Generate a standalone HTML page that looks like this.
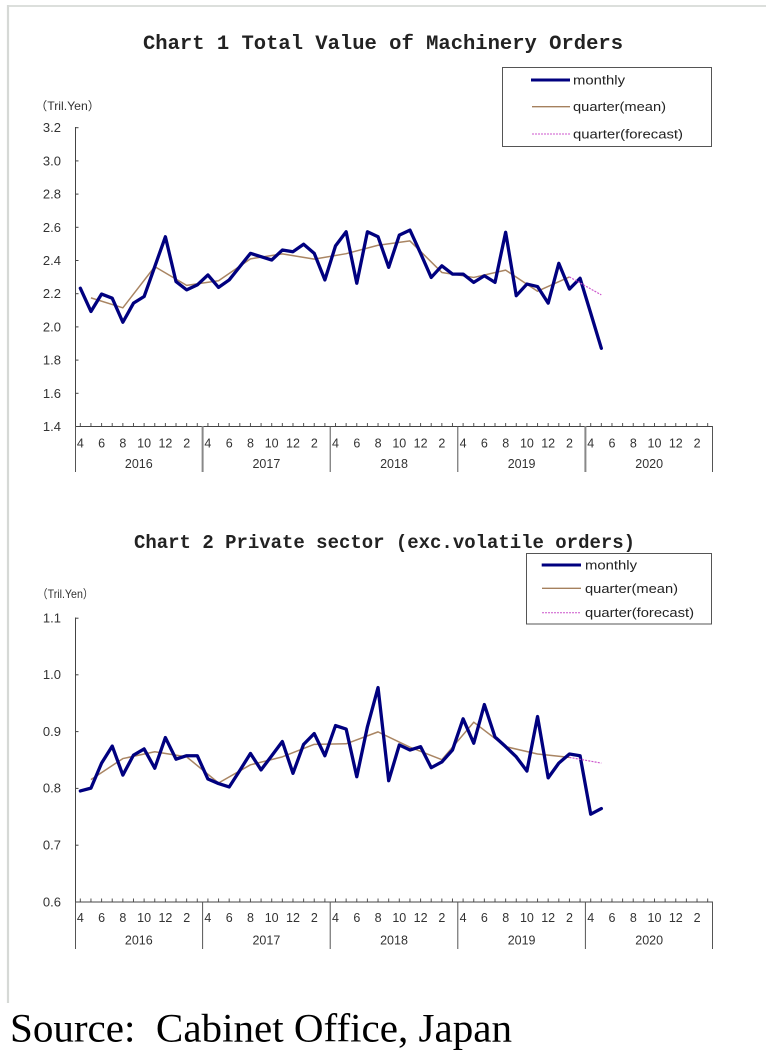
<!DOCTYPE html>
<html>
<head>
<meta charset="utf-8">
<style>
  html, body { margin:0; padding:0; background:#ffffff; }
  body { width:766px; height:1059px; overflow:hidden; }
  svg { display:block; }
  .tick { font-family:"Liberation Sans", Arial, sans-serif; font-size:13px; fill:#333; }
  .mon { font-family:"Liberation Sans", Arial, sans-serif; font-size:12.5px; fill:#333; text-anchor:middle; }
  .yr { font-family:"Liberation Sans", Arial, sans-serif; font-size:12.5px; fill:#333; text-anchor:middle; }
  .leg { font-family:"Liberation Sans", Arial, sans-serif; font-size:13px; fill:#222; }
  .unit { font-family:"Liberation Sans", "Noto Sans CJK JP", sans-serif; font-size:12px; fill:#333; }
  .title { font-family:"Liberation Mono", "Courier New", monospace; font-weight:bold; fill:#222; text-anchor:middle; }
</style>
</head>
<body>
<svg width="766" height="1059" viewBox="0 0 766 1059" xmlns="http://www.w3.org/2000/svg">
  <!-- frame -->
  <line x1="7" y1="6" x2="766" y2="6" stroke="#dcdfdc" stroke-width="2"/>
  <line x1="8" y1="5" x2="8" y2="1003" stroke="#d6d9d6" stroke-width="2.2"/>

  <!-- ================= CHART 1 ================= -->
  <text class="title" x="383" y="49" font-size="20.5" textLength="480" lengthAdjust="spacingAndGlyphs">Chart 1 Total Value of Machinery Orders</text>

  <!-- legend 1 -->
  <rect x="502.5" y="67.5" width="209" height="79" fill="#fff" stroke="#555" stroke-width="1"/>
  <line x1="531" y1="80" x2="570" y2="80" stroke="#00007f" stroke-width="3"/>
  <text class="leg" x="573" y="84.5" textLength="52" lengthAdjust="spacingAndGlyphs">monthly</text>
  <line x1="532" y1="106.7" x2="570" y2="106.7" stroke="#a5805e" stroke-width="1.3"/>
  <text class="leg" x="573" y="111.2" textLength="93" lengthAdjust="spacingAndGlyphs">quarter(mean)</text>
  <line x1="532" y1="134" x2="570" y2="134" stroke="#cc55cc" stroke-width="1" stroke-dasharray="2,1"/>
  <text class="leg" x="573" y="138.5" textLength="110" lengthAdjust="spacingAndGlyphs">quarter(forecast)</text>

  <text class="unit" x="35" y="110" textLength="65" lengthAdjust="spacingAndGlyphs">（Tril.Yen）</text>

  <!-- y tick labels -->
  <g class="tick" text-anchor="end">
    <text x="61" y="132">3.2</text>
    <text x="61" y="165.4">3.0</text>
    <text x="61" y="198.6">2.8</text>
    <text x="61" y="231.8">2.6</text>
    <text x="61" y="265">2.4</text>
    <text x="61" y="298.2">2.2</text>
    <text x="61" y="331.4">2.0</text>
    <text x="61" y="364.6">1.8</text>
    <text x="61" y="397.8">1.6</text>
    <text x="61" y="431">1.4</text>
  </g>
  <!-- axes -->
  <g stroke="#444" stroke-width="1">
    <line x1="75.5" y1="127" x2="75.5" y2="426"/>
    <line x1="75" y1="426.5" x2="713" y2="426.5"/>
    <line x1="75" y1="127.7" x2="78.5" y2="127.7"/>
    <line x1="75" y1="160.9" x2="78.5" y2="160.9"/>
    <line x1="75" y1="194.1" x2="78.5" y2="194.1"/>
    <line x1="75" y1="227.3" x2="78.5" y2="227.3"/>
    <line x1="75" y1="260.5" x2="78.5" y2="260.5"/>
    <line x1="75" y1="293.7" x2="78.5" y2="293.7"/>
    <line x1="75" y1="326.9" x2="78.5" y2="326.9"/>
    <line x1="75" y1="360.1" x2="78.5" y2="360.1"/>
    <line x1="75" y1="393.3" x2="78.5" y2="393.3"/>
  </g>
  <line x1="79.82" y1="424.5" x2="713" y2="424.5" stroke="#555" stroke-width="3" stroke-dasharray="1,9.633"/>
  <!-- year separators -->
  <g stroke="#555" stroke-width="1">
    <line x1="75.5" y1="426" x2="75.5" y2="472"/>
    <line x1="202.6" y1="426" x2="202.6" y2="472" stroke="#888" stroke-width="2"/>
    <line x1="330.2" y1="426" x2="330.2" y2="472"/>
    <line x1="457.8" y1="426" x2="457.8" y2="472"/>
    <line x1="585.4" y1="426" x2="585.4" y2="472" stroke="#888" stroke-width="2"/>
    <line x1="712.5" y1="426" x2="712.5" y2="472"/>
  </g>
  <!-- month labels -->
  <g class="mon">
    <text x="80.3" y="447.5">4</text><text x="101.6" y="447.5">6</text><text x="122.9" y="447.5">8</text><text x="144.1" y="447.5">10</text><text x="165.4" y="447.5">12</text><text x="186.7" y="447.5">2</text>
    <text x="207.9" y="447.5">4</text><text x="229.2" y="447.5">6</text><text x="250.5" y="447.5">8</text><text x="271.7" y="447.5">10</text><text x="293.0" y="447.5">12</text><text x="314.3" y="447.5">2</text>
    <text x="335.5" y="447.5">4</text><text x="356.8" y="447.5">6</text><text x="378.1" y="447.5">8</text><text x="399.3" y="447.5">10</text><text x="420.6" y="447.5">12</text><text x="441.9" y="447.5">2</text>
    <text x="463.1" y="447.5">4</text><text x="484.4" y="447.5">6</text><text x="505.7" y="447.5">8</text><text x="526.9" y="447.5">10</text><text x="548.2" y="447.5">12</text><text x="569.5" y="447.5">2</text>
    <text x="590.7" y="447.5">4</text><text x="612.0" y="447.5">6</text><text x="633.3" y="447.5">8</text><text x="654.5" y="447.5">10</text><text x="675.8" y="447.5">12</text><text x="697.1" y="447.5">2</text>
  </g>
  <g class="yr">
    <text x="138.8" y="467.8">2016</text>
    <text x="266.4" y="467.8">2017</text>
    <text x="394.0" y="467.8">2018</text>
    <text x="521.6" y="467.8">2019</text>
    <text x="649.2" y="467.8">2020</text>
  </g>
  <!-- series chart 1 -->
  <g transform="matrix(10.633,0,0,-166,80.32,658.4)" fill="none">
    <polyline vector-effect="non-scaling-stroke" stroke="#a98563" stroke-width="1.5" stroke-linejoin="round"
      points="1,2.172 4,2.112 7,2.36 10,2.247 13,2.275 16,2.407 19,2.437 22,2.405 25,2.438 28,2.489 31,2.515 34,2.325 37,2.295 40,2.339 43,2.212 46,2.298"/>
    <polyline vector-effect="non-scaling-stroke" stroke="#00007f" stroke-width="3.3" stroke-linejoin="round" stroke-linecap="round"
      points="0,2.23 1,2.09 2,2.195 3,2.17 4,2.025 5,2.14 6,2.18 7,2.36 8,2.54 9,2.27 10,2.22 11,2.25 12,2.31 13,2.235 14,2.28 15,2.36 16,2.44 17,2.42 18,2.40 19,2.46 20,2.45 21,2.495 22,2.44 23,2.28 24,2.485 25,2.57 26,2.26 27,2.57 28,2.54 29,2.356 30,2.55 31,2.58 32,2.44 33,2.295 34,2.365 35,2.315 36,2.315 37,2.265 38,2.305 39,2.265 40,2.567 41,2.185 42,2.255 43,2.24 44,2.14 45,2.38 46,2.225 47,2.29 48,2.08 49,1.868"/>
  </g>
  <line x1="569.4" y1="276.9" x2="601.3" y2="294.9" stroke="#cc55cc" stroke-width="1.2" stroke-dasharray="2,1.2"/>

  <!-- ================= CHART 2 ================= -->
  <text class="title" x="384.5" y="548" font-size="19" textLength="501" lengthAdjust="spacingAndGlyphs">Chart 2 Private sector (exc.volatile orders)</text>

  <!-- legend 2 -->
  <rect x="526.5" y="553.5" width="185" height="70.5" fill="#fff" stroke="#555" stroke-width="1"/>
  <line x1="541.7" y1="565" x2="581" y2="565" stroke="#00007f" stroke-width="3"/>
  <text class="leg" x="585" y="569.5" textLength="52" lengthAdjust="spacingAndGlyphs">monthly</text>
  <line x1="542" y1="588.3" x2="581" y2="588.3" stroke="#a5805e" stroke-width="1.3"/>
  <text class="leg" x="585" y="592.8" textLength="93" lengthAdjust="spacingAndGlyphs">quarter(mean)</text>
  <line x1="542" y1="612.7" x2="581" y2="612.7" stroke="#cc55cc" stroke-width="1" stroke-dasharray="2,1"/>
  <text class="leg" x="585" y="617.2" textLength="109" lengthAdjust="spacingAndGlyphs">quarter(forecast)</text>

  <text class="unit" x="37" y="598" textLength="56.5" lengthAdjust="spacingAndGlyphs">（Tril.Yen）</text>

  <g class="tick" text-anchor="end">
    <text x="61" y="622.5">1.1</text>
    <text x="61" y="679.1">1.0</text>
    <text x="61" y="735.9">0.9</text>
    <text x="61" y="792.7">0.8</text>
    <text x="61" y="849.5">0.7</text>
    <text x="61" y="906.3">0.6</text>
  </g>
  <g stroke="#444" stroke-width="1">
    <line x1="75.5" y1="617.5" x2="75.5" y2="901.7"/>
    <line x1="75" y1="902" x2="713" y2="902"/>
    <line x1="75" y1="618.2" x2="78.5" y2="618.2"/>
    <line x1="75" y1="674.8" x2="78.5" y2="674.8"/>
    <line x1="75" y1="731.6" x2="78.5" y2="731.6"/>
    <line x1="75" y1="788.4" x2="78.5" y2="788.4"/>
    <line x1="75" y1="845.2" x2="78.5" y2="845.2"/>
  </g>
  <line x1="79.82" y1="900" x2="713" y2="900" stroke="#555" stroke-width="3" stroke-dasharray="1,9.633"/>
  <g stroke="#555" stroke-width="1">
    <line x1="75.5" y1="901.7" x2="75.5" y2="949"/>
    <line x1="202.6" y1="901.7" x2="202.6" y2="949"/>
    <line x1="330.2" y1="901.7" x2="330.2" y2="949"/>
    <line x1="457.8" y1="901.7" x2="457.8" y2="949"/>
    <line x1="585.4" y1="901.7" x2="585.4" y2="949"/>
    <line x1="712.5" y1="901.7" x2="712.5" y2="949"/>
  </g>
  <g class="mon">
    <text x="80.3" y="922">4</text><text x="101.6" y="922">6</text><text x="122.9" y="922">8</text><text x="144.1" y="922">10</text><text x="165.4" y="922">12</text><text x="186.7" y="922">2</text>
    <text x="207.9" y="922">4</text><text x="229.2" y="922">6</text><text x="250.5" y="922">8</text><text x="271.7" y="922">10</text><text x="293.0" y="922">12</text><text x="314.3" y="922">2</text>
    <text x="335.5" y="922">4</text><text x="356.8" y="922">6</text><text x="378.1" y="922">8</text><text x="399.3" y="922">10</text><text x="420.6" y="922">12</text><text x="441.9" y="922">2</text>
    <text x="463.1" y="922">4</text><text x="484.4" y="922">6</text><text x="505.7" y="922">8</text><text x="526.9" y="922">10</text><text x="548.2" y="922">12</text><text x="569.5" y="922">2</text>
    <text x="590.7" y="922">4</text><text x="612.0" y="922">6</text><text x="633.3" y="922">8</text><text x="654.5" y="922">10</text><text x="675.8" y="922">12</text><text x="697.1" y="922">2</text>
  </g>
  <g class="yr">
    <text x="138.8" y="944.7">2016</text>
    <text x="266.4" y="944.7">2017</text>
    <text x="394.0" y="944.7">2018</text>
    <text x="521.6" y="944.7">2019</text>
    <text x="649.2" y="944.7">2020</text>
  </g>
  <g transform="matrix(10.633,0,0,-568,80.32,1242.5)" fill="none">
    <polyline vector-effect="non-scaling-stroke" stroke="#a98563" stroke-width="1.5" stroke-linejoin="round"
      points="1,0.815 4,0.852 7,0.864 10,0.855 13,0.809 16,0.841 19,0.855 22,0.877 25,0.878 28,0.899 31,0.872 34,0.850 37,0.916 40,0.873 43,0.860 46,0.854"/>
    <polyline vector-effect="non-scaling-stroke" stroke="#00007f" stroke-width="3.3" stroke-linejoin="round" stroke-linecap="round"
      points="0,0.795 1,0.80 2,0.844 3,0.874 4,0.823 5,0.858 6,0.869 7,0.835 8,0.889 9,0.851 10,0.857 11,0.857 12,0.816 13,0.808 14,0.802 15,0.831 16,0.861 17,0.832 18,0.857 19,0.882 20,0.826 21,0.877 22,0.896 23,0.857 24,0.910 25,0.904 26,0.820 27,0.908 28,0.977 29,0.813 30,0.876 31,0.867 32,0.873 33,0.836 34,0.846 35,0.867 36,0.922 37,0.879 38,0.947 39,0.890 40,0.873 41,0.855 42,0.830 43,0.926 44,0.818 45,0.844 46,0.860 47,0.857 48,0.754 49,0.764"/>
  </g>
  <line x1="569.4" y1="757.4" x2="601.3" y2="763.1" stroke="#cc55cc" stroke-width="1.2" stroke-dasharray="2,1.2"/>

  <!-- source -->
  <text x="10" y="1041.5" font-family="'Liberation Serif', 'Times New Roman', serif" font-size="40" fill="#000" textLength="502" lengthAdjust="spacingAndGlyphs">Source:&#160; Cabinet Office, Japan</text>
</svg>
</body>
</html>
